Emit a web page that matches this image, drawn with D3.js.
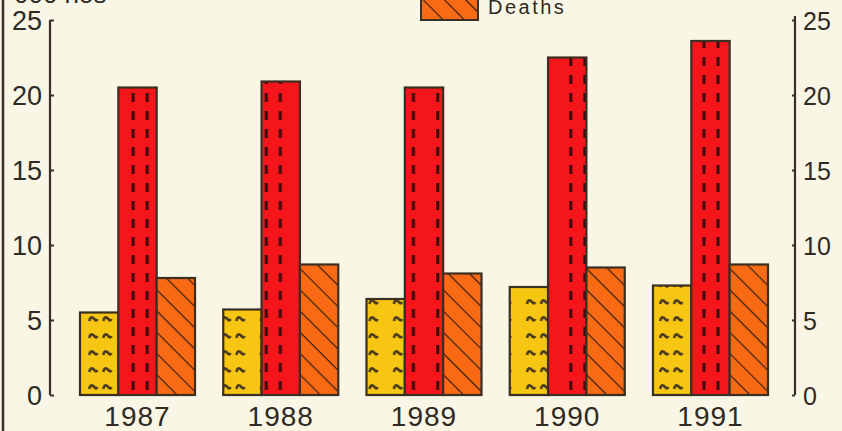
<!DOCTYPE html>
<html><head><meta charset="utf-8">
<script src="https://cdn.jsdelivr.net/npm/d3@7/dist/d3.min.js"></script>
<style>html,body{margin:0;padding:0;background:#f9f6e6;}svg{display:block;}</style>
</head><body><svg id="c" width="842" height="431"></svg>
<script>
const years = ["1987","1988","1989","1990","1991"];
const seriesA = [5.5, 5.7, 6.4, 7.2, 7.3];      // yellow
const seriesB = [20.5, 20.9, 20.5, 22.5, 23.6]; // red
const deaths  = [7.8, 8.7, 8.1, 8.5, 8.7];      // orange hatched
const yTicks = [0, 5, 10, 15, 20, 25];
const unitLabel = "000 nos";
const legendLabel = "Deaths";

const svg = d3.select("#c");
const W = 842, H = 431;
const ink = "#3b2e22";
const font = "Liberation Sans, Arial, sans-serif";
svg.append("rect").attr("width", W).attr("height", H).attr("fill", "#f9f6e6");

const y = d3.scaleLinear().domain([0, 25]).range([395, 20]);
const x0 = d3.scaleBand().domain(years).range([80, 768]).paddingInner(0.197).paddingOuter(0);
const x1 = d3.scaleBand().domain(["a","b","c"]).range([0, x0.bandwidth()]);

const defs = svg.append("defs");
// per-bar patterns so that marks line up inside each bar
years.forEach((yr, i) => {
  const xa = x0(yr) + x1("a");
  const pY = defs.append("pattern").attr("id","pY"+i).attr("patternUnits","userSpaceOnUse")
    .attr("x", xa).attr("y", 395).attr("width", x1.bandwidth()).attr("height", 17);
  pY.append("rect").attr("width", x1.bandwidth()).attr("height",17).attr("fill","#f6c612");
  pY.append("path").attr("d","M6,11 q1,-6 5,-2 q2,3 3,0 M20,11 q1,-6 5,-2 q2,3 3,0").attr("stroke","#4a3a20").attr("stroke-width",2.6).attr("fill","none");
  const xb = x0(yr) + x1("b");
  const pR = defs.append("pattern").attr("id","pR"+i).attr("patternUnits","userSpaceOnUse")
    .attr("x", xb).attr("y", 395).attr("width", x1.bandwidth()).attr("height", 18);
  pR.append("rect").attr("width", x1.bandwidth()).attr("height",18).attr("fill","#f4161b");
  pR.append("rect").attr("x",10).attr("y",4).attr("width",3).attr("height",9).attr("fill","#3a0a0a");
  pR.append("rect").attr("x",24).attr("y",4).attr("width",3).attr("height",9).attr("fill","#3a0a0a");
});
// orange hatch
const pO = defs.append("pattern").attr("id","pO").attr("patternUnits","userSpaceOnUse")
  .attr("width", 15).attr("height", 15).attr("patternTransform","rotate(45)");
pO.append("rect").attr("width",15).attr("height",15).attr("fill","#f96a14");
pO.append("line").attr("x1",0).attr("y1",0).attr("x2",15).attr("y2",0).attr("stroke","#3a2010").attr("stroke-width",2.4);

// left border
svg.append("line").attr("x1",3).attr("x2",3).attr("y1",0).attr("y2",H).attr("stroke",ink).attr("stroke-width",2.5);

// left axis
const leftAxis = d3.axisLeft(y).tickValues(yTicks).tickSize(-4).tickPadding(8).tickFormat(d3.format("d"));
const gL = svg.append("g").attr("transform","translate(50,0)").call(leftAxis);
gL.select(".domain").attr("d", `M0,${y(25)}V${y(0)}`).attr("stroke", ink).attr("stroke-width", 2.2);
gL.selectAll(".tick line").attr("stroke", ink).attr("stroke-width",2);
gL.selectAll(".tick text").attr("font-family",font).attr("font-size",27).attr("fill","#2f2a24").attr("dy","0.36em");

// right axis
const rightAxis = d3.axisRight(y).tickValues(yTicks).tickSize(-3).tickPadding(8).tickFormat(d3.format("d"));
const gR = svg.append("g").attr("transform","translate(795,0)").call(rightAxis);
gR.select(".domain").attr("d", `M0,${y(25)-4}V${y(0)}`).attr("stroke", ink).attr("stroke-width", 2.2);
gR.selectAll(".tick line").attr("stroke", ink).attr("stroke-width",2);
gR.selectAll(".tick text").attr("font-family",font).attr("font-size",25).attr("fill","#2f2a24").attr("dy","0.36em");

// bars
const groups = svg.append("g").selectAll("g").data(years).join("g")
  .attr("transform", d => `translate(${x0(d)},0)`);
const sets = [["a", seriesA, i => `url(#pY${i})`], ["b", seriesB, i => `url(#pR${i})`], ["c", deaths, i => "url(#pO)"]];
sets.forEach(([k, vals, fill]) => {
  groups.append("rect")
    .attr("x", x1(k))
    .attr("y", (d,i) => y(vals[i]))
    .attr("width", x1.bandwidth())
    .attr("height", (d,i) => y(0) - y(vals[i]))
    .attr("fill", (d,i) => fill(i))
    .attr("stroke", ink).attr("stroke-width", 2.2);
});

// year labels
svg.append("g").selectAll("text").data(years).join("text")
  .attr("x", d => x0(d) + x0.bandwidth()/2)
  .attr("y", 426)
  .attr("text-anchor","middle")
  .attr("font-family",font).attr("font-size",28)
  .attr("fill","#2f2a24").attr("letter-spacing",1)
  .text(d => d);

// unit label (cut off at top)
svg.append("text").attr("x",14).attr("y",3).attr("font-family",font)
  .attr("font-size",26).attr("fill","#2f2a24").text(unitLabel);

// legend
svg.append("rect").attr("x",421).attr("y",-10).attr("width",57).attr("height",30)
  .attr("fill","url(#pO)").attr("stroke",ink).attr("stroke-width",2);
svg.append("text").attr("x",488).attr("y",14).attr("font-family",font)
  .attr("font-size",20).attr("fill","#2f2a24").attr("letter-spacing",2.5).text(legendLabel);
</script></body></html>
